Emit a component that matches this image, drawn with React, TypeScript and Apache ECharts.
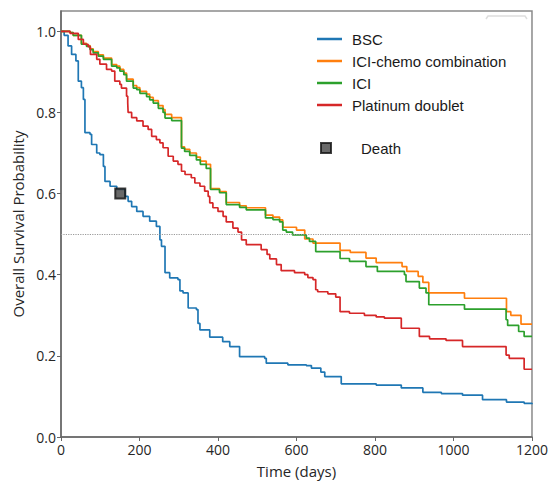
import React, { useEffect, useRef } from "react";
import * as echarts from "echarts";

const xTicks = [0, 200, 400, 600, 800, 1000, 1200];
const yTicks = [0, 0.2, 0.4, 0.6, 0.8, 1.0];

const bscTime = [0, 8, 18, 27, 38, 44, 52, 57, 61, 74, 78, 91, 99, 108, 112, 125, 142, 163, 171, 180, 193, 209, 226, 243, 252, 256, 265, 277, 298, 303, 311, 324, 345, 349, 354, 379, 412, 430, 455, 519, 523, 578, 625, 638, 662, 672, 714, 803, 867, 922, 969, 1023, 1074, 1135, 1180, 1200];
const bscSurv = [1.0, 0.99, 0.964, 0.943, 0.927, 0.877, 0.861, 0.832, 0.75, 0.746, 0.721, 0.70, 0.696, 0.667, 0.63, 0.618, 0.61, 0.593, 0.581, 0.568, 0.556, 0.544, 0.532, 0.519, 0.486, 0.47, 0.405, 0.392, 0.388, 0.36, 0.355, 0.318, 0.314, 0.28, 0.264, 0.246, 0.235, 0.223, 0.198, 0.194, 0.182, 0.178, 0.176, 0.17, 0.16, 0.149, 0.131, 0.128, 0.121, 0.11, 0.107, 0.103, 0.092, 0.086, 0.083, 0.081];

const chemoTime = [0, 23, 31, 52, 65, 74, 82, 95, 108, 129, 142, 150, 160, 167, 184, 193, 201, 218, 226, 235, 248, 260, 265, 282, 307, 315, 328, 345, 355, 370, 381, 404, 421, 455, 472, 521, 540, 557, 565, 600, 621, 642, 711, 737, 777, 803, 869, 881, 910, 922, 937, 1028, 1135, 1146, 1172, 1200];
const chemoSurv = [1.0, 0.997, 0.99, 0.97, 0.965, 0.957, 0.95, 0.942, 0.934, 0.918, 0.914, 0.906, 0.897, 0.882, 0.866, 0.861, 0.852, 0.845, 0.837, 0.829, 0.817, 0.807, 0.795, 0.787, 0.715, 0.709, 0.70, 0.69, 0.68, 0.672, 0.612, 0.605, 0.578, 0.57, 0.565, 0.547, 0.542, 0.535, 0.517, 0.51, 0.488, 0.478, 0.46, 0.455, 0.441, 0.43, 0.42, 0.408, 0.396, 0.381, 0.355, 0.342, 0.309, 0.30, 0.278, 0.278];

const iciTime = [0, 23, 31, 52, 65, 74, 82, 95, 108, 129, 142, 150, 160, 167, 184, 193, 201, 218, 226, 235, 248, 260, 265, 282, 307, 315, 328, 345, 355, 370, 381, 404, 421, 455, 472, 521, 540, 557, 565, 574, 590, 625, 633, 649, 711, 735, 777, 806, 875, 879, 913, 930, 937, 1028, 1134, 1138, 1166, 1180, 1200];
const iciSurv = [1.0, 0.997, 0.99, 0.968, 0.963, 0.955, 0.947, 0.939, 0.931, 0.914, 0.91, 0.902, 0.893, 0.877, 0.86, 0.856, 0.847, 0.839, 0.831, 0.823, 0.81, 0.80, 0.786, 0.78, 0.712, 0.704, 0.694, 0.683, 0.672, 0.662, 0.61, 0.602, 0.573, 0.566, 0.56, 0.54, 0.536, 0.53, 0.51, 0.505, 0.498, 0.49, 0.482, 0.457, 0.44, 0.433, 0.42, 0.408, 0.40, 0.383, 0.367, 0.355, 0.326, 0.315, 0.289, 0.275, 0.26, 0.248, 0.248];

const platTime = [0, 23, 44, 57, 69, 75, 91, 99, 116, 129, 137, 150, 154, 167, 170, 171, 180, 193, 209, 222, 231, 243, 252, 260, 273, 286, 298, 307, 316, 332, 341, 354, 366, 375, 379, 387, 400, 413, 421, 438, 451, 460, 472, 510, 525, 532, 549, 561, 595, 621, 629, 642, 649, 654, 680, 700, 711, 735, 773, 803, 824, 867, 913, 939, 981, 1023, 1134, 1142, 1180, 1200];
const platSurv = [1.0, 0.995, 0.98, 0.968, 0.962, 0.943, 0.931, 0.919, 0.906, 0.902, 0.877, 0.869, 0.86, 0.84, 0.824, 0.80, 0.787, 0.779, 0.766, 0.758, 0.741, 0.733, 0.725, 0.713, 0.692, 0.68, 0.672, 0.655, 0.647, 0.639, 0.626, 0.618, 0.606, 0.593, 0.577, 0.565, 0.556, 0.544, 0.53, 0.515, 0.505, 0.486, 0.474, 0.462, 0.45, 0.439, 0.425, 0.41, 0.405, 0.40, 0.393, 0.388, 0.363, 0.358, 0.353, 0.345, 0.309, 0.305, 0.30, 0.296, 0.293, 0.268, 0.248, 0.242, 0.238, 0.223, 0.202, 0.194, 0.167, 0.167];

const deathPoint = [151, 0.6];
const medianLevel = 0.5;

const seriesNames = ["BSC", "ICI-chemo combination", "ICI", "Platinum doublet"];
const seriesColors = ["#1f77b4", "#ff7f0e", "#2ca02c", "#d62728"];

const pair = (t: number[], s: number[]) => t.map((v, i) => [v, s[i]]);

export default function App() {
  const ref = useRef<HTMLDivElement>(null);
  useEffect(() => {
    if (!ref.current) return;
    const chart = echarts.init(ref.current, undefined, { renderer: "svg" });
    const tickFont = { fontFamily: "Open Sans", fontSize: 14, color: "#262626" };
    const data = [pair(bscTime, bscSurv), pair(chemoTime, chemoSurv), pair(iciTime, iciSurv), pair(platTime, platSurv)];
    const lineSeries: any[] = seriesNames.map((name, i) => ({
      name,
      type: "line",
      step: "end",
      symbol: "none",
      data: data[i],
      lineStyle: { color: seriesColors[i], width: 1.7 },
      itemStyle: { color: seriesColors[i] },
      z: 3,
    }));
    lineSeries[0].markLine = {
      silent: true,
      symbol: "none",
      label: { show: false },
      lineStyle: { color: "#9a9a9a", type: "dotted", width: 1.2 },
      data: [{ yAxis: medianLevel }],
    };
    chart.setOption({
      animation: false,
      backgroundColor: "#ffffff",
      grid: {
        left: 61,
        right: 18,
        top: 11,
        bottom: 46,
        show: true,
        borderColor: "#8a8a8a",
        borderWidth: 1.5,
      },
      xAxis: {
        type: "value",
        min: 0,
        max: 1200,
        interval: 200,
        name: "Time (days)",
        nameLocation: "middle",
        nameGap: 26,
        nameTextStyle: { fontFamily: "Open Sans", fontSize: 15, color: "#262626" },
        axisLine: { show: true, lineStyle: { color: "#666", width: 1.5 } },
        axisTick: { show: true, length: 4, lineStyle: { color: "#666" }, customValues: xTicks },
        axisLabel: { ...tickFont, margin: 5, customValues: xTicks, formatter: (v: number) => String(v) },
        splitLine: { show: false },
      },
      yAxis: {
        type: "value",
        min: 0,
        max: 1.05,
        name: "Overall Survival Probability",
        nameLocation: "middle",
        nameGap: 35,
        nameTextStyle: { fontFamily: "Open Sans", fontSize: 15, color: "#262626" },
        axisLine: { show: true, lineStyle: { color: "#666", width: 1.5 } },
        axisTick: { show: true, length: 4, lineStyle: { color: "#666" }, customValues: yTicks },
        axisLabel: { ...tickFont, margin: 5, customValues: yTicks, formatter: (v: number) => v.toFixed(1) },
        splitLine: { show: false },
      },
      legend: [
        {
          data: seriesNames,
          orient: "vertical",
          left: 312,
          top: 25,
          icon: "rect",
          itemWidth: 25,
          itemHeight: 2.5,
          itemGap: 4,
          textStyle: { fontFamily: "Liberation Sans", fontSize: 15, color: "#1a1a1a", lineHeight: 18, padding: [0, 0, 0, 5] },
        },
        {
          data: ["Death"],
          orient: "vertical",
          left: 315,
          top: 134,
          icon: "rect",
          itemWidth: 10,
          itemHeight: 10,
          textStyle: { fontFamily: "Liberation Sans", fontSize: 15, color: "#1a1a1a", lineHeight: 18, padding: [0, 0, 0, 25] },
        },
      ],
      graphic: [
        {
          type: "polyline",
          shape: { points: [[486, 19], [488, 16], [525, 16], [527, 19]] },
          style: { stroke: "#dddddd", lineWidth: 1.5, fill: "none" },
        },
      ],
      series: [
        ...lineSeries,
        {
          name: "Death",
          type: "scatter",
          symbol: "rect",
          symbolSize: 10,
          data: [deathPoint],
          itemStyle: { color: "#444444", borderColor: "#111111", borderWidth: 2 },
          z: 5,
        },
      ],
    });
    return () => chart.dispose();
  }, []);
  return <div ref={ref} style={{ width: 551, height: 483, position: "absolute", left: 0, top: 0 }} />;
}
